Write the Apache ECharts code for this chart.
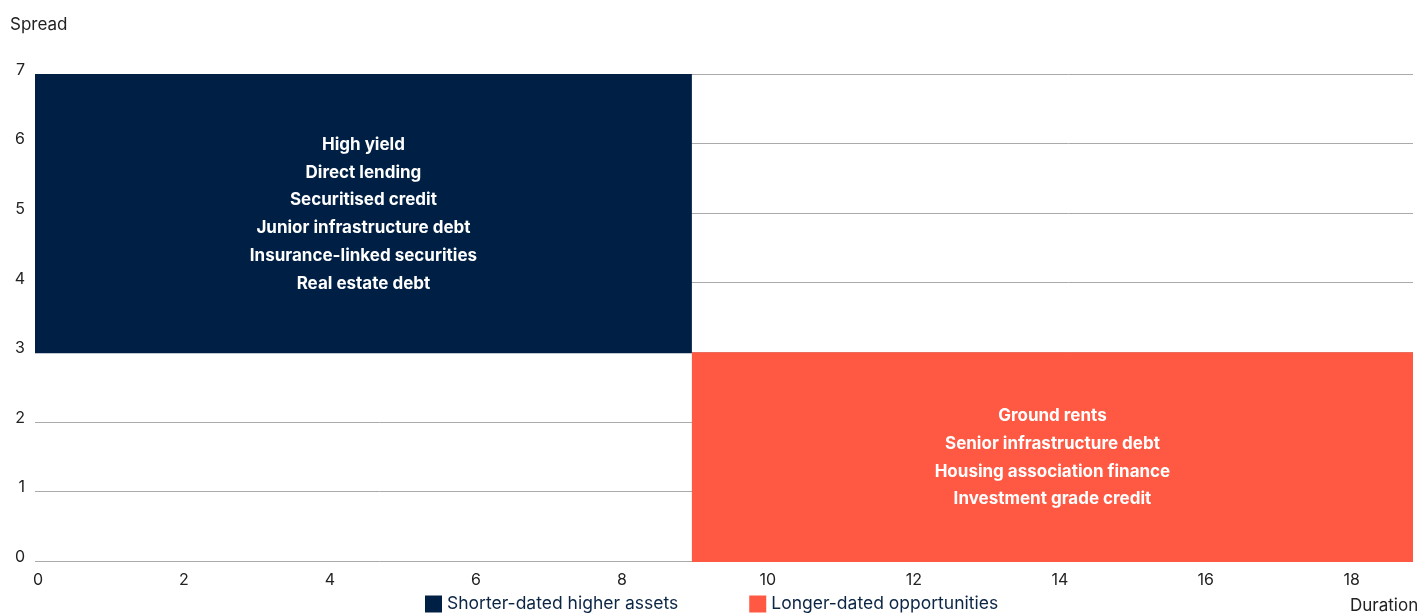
<!DOCTYPE html>
<html>
<head>
<meta charset="utf-8">
<style>html,body{margin:0;padding:0;background:#fff}#c{width:1423px;height:613px}</style>
<script src="https://cdn.jsdelivr.net/npm/echarts@6/dist/echarts.min.js"></script>
</head>
<body>
<div id="c"></div>
<script>
const boxNames = ['Shorter-dated higher assets', 'Longer-dated opportunities'];
const boxColors = ['#001F44', '#FF5843'];
const boxX0 = [0, 9];
const boxX1 = [9, 18.88];
const boxY0 = [3, 0];
const boxY1 = [7, 3];
const boxLabels = [
  ['High yield', 'Direct lending', 'Securitised credit', 'Junior infrastructure debt', 'Insurance-linked securities', 'Real estate debt'],
  ['Ground rents', 'Senior infrastructure debt', 'Housing association finance', 'Investment grade credit']
];
const xMin = 0, xMax = 18.88, xInterval = 2;
const yMin = 0, yMax = 7, yInterval = 1;

const FONT = 'Inter';
const chart = echarts.init(document.getElementById('c'));
const series = boxNames.map((name, i) => ({
  name: name,
  type: 'custom',
  itemStyle: { color: boxColors[i] },
  data: [[boxX0[i], boxX1[i], boxY0[i], boxY1[i]]],
  encode: { x: [0, 1], y: [2, 3] },
  renderItem: function (params, api) {
    const p1 = api.coord([api.value(0), api.value(3)]);
    const p2 = api.coord([api.value(1), api.value(2)]);
    const cx = (p1[0] + p2[0]) / 2, cy = (p1[1] + p2[1]) / 2;
    return {
      type: 'group',
      children: [
        { type: 'rect', shape: { x: p1[0], y: p1[1], width: p2[0] - p1[0], height: p2[1] - p1[1] + 1 },
          style: { fill: boxColors[i] } },
        { type: 'text', x: cx, y: cy + 1,
          style: { text: boxLabels[i].join('\n'), fill: '#fff', fontFamily: FONT, fontWeight: 700,
                   fontSize: 17, lineHeight: 27.7, align: 'center', verticalAlign: 'middle' } }
      ]
    };
  }
}));

chart.setOption({
  animation: false,
  grid: { left: 35, right: 10, top: 74, bottom: 52, containLabel: false },
  legend: {
    data: boxNames.map((n, i) => ({ name: n, icon: 'rect', itemStyle: { color: boxColors[i] } })),
    left: 420, top: 590, itemWidth: 17, itemHeight: 17, itemGap: 71,
    textStyle: { fontFamily: FONT, fontSize: 17.5, color: '#0B2545' },
    selectedMode: false
  },
  xAxis: {
    type: 'value', min: xMin, max: xMax, interval: xInterval,
    axisLine: { show: false }, axisTick: { show: false }, splitLine: { show: false },
    axisLabel: { fontFamily: FONT, fontSize: 16, color: '#222', margin: 11, padding: [0, 0, 0, 6],
      showMaxLabel: false }
  },
  yAxis: {
    type: 'value', min: yMin, max: yMax, interval: yInterval,
    axisLine: { show: false }, axisTick: { show: false },
    splitLine: { show: true, lineStyle: { color: '#aaaaaa', width: 1 } },
    axisLabel: { margin: 10, formatter: '{a|{value}}',
      rich: { a: { fontFamily: FONT, fontSize: 16, color: '#222', padding: [0, 0, 8, 0] } } }
  },
  graphic: [
    { type: 'text', left: 10, top: 16, style: { text: 'Spread', fontFamily: FONT, fontSize: 17, fill: '#222' } },
    { type: 'text', left: 1350, top: 597, style: { text: 'Duration', fontFamily: FONT, fontSize: 17, fill: '#222' } }
  ],
  series: series
});
</script>
</body>
</html>
